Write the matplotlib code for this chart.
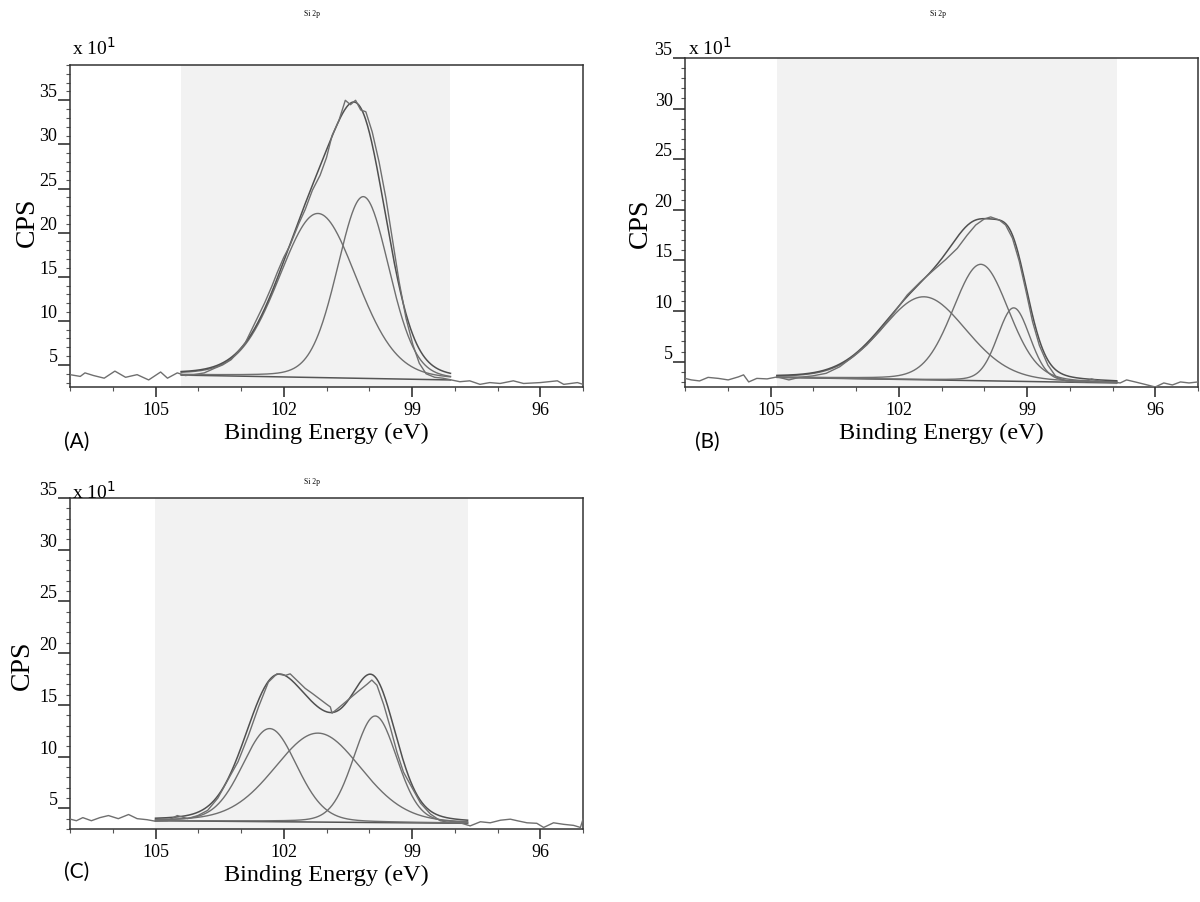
import numpy as np
import matplotlib
matplotlib.use("Agg")
import matplotlib.pyplot as plt
from matplotlib.ticker import MultipleLocator

plt.rcParams['font.family'] = ['Liberation Serif', 'DejaVu Serif']

# panel A raw spectrum (eV, CPS x10)
xa = [107.0, 106.76, 106.65, 106.45, 106.2, 105.95, 105.7, 105.43, 105.16, 104.88, 104.72, 104.49, 104.3,
      104.1, 103.86, 103.63, 103.43, 103.23, 103.05, 102.9, 102.75, 102.6, 102.45, 102.28, 102.15, 102.0,
      101.85, 101.65, 101.5, 101.33, 101.15, 101.0, 100.87, 100.71, 100.56, 100.44, 100.32, 100.2, 100.08,
      99.93, 99.77, 99.61, 99.46, 99.3, 99.14, 98.98, 98.83, 98.67, 98.47, 98.28, 98.08, 97.88, 97.65,
      97.41, 97.18, 96.94, 96.63, 96.39, 96.0, 95.6, 95.45, 95.13, 95.0]
ya = [3.9, 3.7, 4.1, 3.8, 3.5, 4.3, 3.6, 3.9, 3.3, 4.2, 3.5, 4.1, 3.8,
      3.9, 4.1, 4.6, 5.0, 5.6, 6.6, 7.5, 9.0, 10.5, 12.0, 13.9, 15.5, 17.2,
      18.6, 21.0, 22.6, 24.8, 26.5, 28.5, 31.0, 32.7, 35.0, 34.5, 35.0, 33.9, 33.7,
      31.4, 28.0, 23.9, 19.3, 14.4, 10.3, 7.3, 5.2, 4.0, 3.6, 3.5, 3.3, 3.1, 3.2,
      2.8, 3.0, 2.9, 3.2, 2.9, 3.0, 3.2, 2.8, 3.0, 2.8]

# panel B raw spectrum
xb = [107.0, 106.85, 106.66, 106.46, 106.22, 105.99, 105.75, 105.63, 105.51, 105.32, 105.08, 104.84,
      104.57, 104.33, 104.01, 103.7, 103.38, 103.07, 102.75, 102.43, 102.12, 101.8, 101.49, 101.17,
      100.9, 100.63, 100.4, 100.2, 100.0, 99.85, 99.65, 99.5, 99.34, 99.18, 99.02, 98.87, 98.71, 98.51,
      98.32, 98.08, 97.88, 97.65, 97.49, 97.26, 97.02, 96.82, 96.67, 96.47, 96.23, 96.0, 95.8, 95.6,
      95.41, 95.21, 95.0]
yb = [3.35, 3.2, 3.1, 3.45, 3.35, 3.2, 3.5, 3.7, 3.0, 3.35, 3.3, 3.5,
      3.2, 3.45, 3.6, 3.85, 4.5, 5.5, 6.65, 8.1, 9.8, 11.6, 12.9, 14.1,
      15.1, 16.2, 17.5, 18.5, 19.1, 19.3, 19.0, 18.5, 17.2, 14.9, 11.9, 8.95, 6.6, 4.66,
      3.5, 3.1, 3.0, 3.0, 3.3, 3.0, 3.0, 2.9, 3.2, 3.0, 2.75, 2.5, 2.9, 2.7,
      3.0, 2.9, 3.0]

# panel C raw spectrum
xc = [107.0, 106.85, 106.7, 106.5, 106.3, 106.1, 105.87, 105.63, 105.43, 105.2, 105.0, 104.72, 104.49,
      104.25, 104.01, 103.78, 103.54, 103.3, 103.07, 102.83, 102.59, 102.36, 102.16, 101.96, 101.85,
      101.65, 101.5, 101.33, 101.01, 100.91, 100.87, 100.75, 100.52, 100.29, 100.05, 99.94, 99.82,
      99.66, 99.5, 99.35, 99.2, 99.0, 98.8, 98.57, 98.34, 98.1, 97.87, 97.64, 97.4, 97.17, 96.93,
      96.7, 96.54, 96.31, 96.08, 95.92, 95.69, 95.45, 95.22, 95.06, 95.0]
yc = [3.96, 3.8, 4.1, 3.8, 4.1, 4.3, 4.0, 4.4, 4.0, 3.9, 3.75, 3.8, 4.3,
      4.0, 4.3, 4.8, 6.0, 7.8, 9.5, 12.0, 14.8, 17.2, 18.0, 17.85, 18.0,
      17.2, 16.6, 16.1, 15.1, 14.8, 14.2, 14.6, 15.4, 16.2, 17.0, 17.4, 16.9,
      15.0, 12.7, 10.4, 8.5, 7.0, 5.5, 4.45, 3.8, 3.6, 3.6, 3.3, 3.7, 3.6, 3.85,
      3.95, 3.8, 3.6, 3.55, 3.15, 3.6, 3.45, 3.35, 3.15, 3.95]

# fitted components: centre (eV), height above background, FWHM (eV)
centers_a = [101.2, 100.14]
heights_a = [18.6, 20.6]
fwhm_a = [2.15, 1.43]
centers_b = [101.41, 100.08, 99.31]
heights_b = [8.2, 11.5, 7.25]
fwhm_b = [2.35, 1.55, 0.9]
centers_c = [102.33, 101.2, 99.86]
heights_c = [9.0, 8.6, 10.3]
fwhm_c = [1.5, 2.4, 1.2]

# fit region (eV) and background at its two ends
region_a = [104.4, 98.1]
bg_a = [3.85, 3.3]
region_b = [104.85, 96.9]
bg_b = [3.45, 2.9]
region_c = [105.0, 97.7]
bg_c = [3.8, 3.55]

ylims = [(2.5, 39.0), (2.5, 35.0), (3.0, 35.0)]

line_col = '#6f6f6f'


def gl(x, c, h, w, m=0.15):
    g = np.exp(-4 * np.log(2) * (x - c) ** 2 / w ** 2)
    lor = 1.0 / (1 + 4 * (x - c) ** 2 / w ** 2)
    return h * ((1 - m) * g + m * lor)


def panel(ax, xr, yr, cen, hei, fw, region, bg, ylim):
    ax.axvspan(region[1], region[0], color='#f2f2f2', lw=0, zorder=0)
    ax.plot(xr, yr, color=line_col, lw=1.0, zorder=3)
    xs = np.linspace(region[0], region[1], 400)
    base = np.interp(xs, [region[1], region[0]], [bg[1], bg[0]])
    ax.plot(xs, base, color='#555555', lw=1.1, zorder=2)
    total = base.copy()
    for c, h, w in zip(cen, hei, fw):
        comp = gl(xs, c, h, w)
        total += comp
        ax.plot(xs, base + comp, color=line_col, lw=1.0, zorder=2)
    ax.plot(xs, total, color='#505050', lw=1.1, zorder=2)

    ax.set_xlim(107, 95)
    ax.set_ylim(*ylim)
    ax.xaxis.set_major_locator(MultipleLocator(3))
    ax.xaxis.set_minor_locator(MultipleLocator(1))
    ax.set_yticks([5, 10, 15, 20, 25, 30, 35])
    ax.yaxis.set_minor_locator(MultipleLocator(1))
    ax.tick_params(axis='both', which='major', direction='out', length=7, width=1.2,
                   labelsize=13, color='#333333', pad=3)
    ax.tick_params(axis='both', which='minor', direction='out', length=3, width=0.8, color='#555555')
    ax.tick_params(axis='y', which='major', length=9, pad=0)
    for lab in ax.get_yticklabels():
        lab.set_va('bottom')
    for s in ax.spines.values():
        s.set_color('#333333')
        s.set_linewidth(1.1)
    ax.set_xlabel('Binding Energy (eV)', fontsize=17.5, labelpad=3)


fig = plt.figure(figsize=(12, 9.03), dpi=100)
W, H = 1200, 903


def add_axes(l, r, t, b):
    return fig.add_axes([l / W, 1 - b / H, (r - l) / W, (b - t) / H])


ax_a = add_axes(70, 583, 66, 388)
ax_b = add_axes(685, 1198, 59, 388)
ax_c = add_axes(70, 583, 499, 830)

panel(ax_a, xa, ya, centers_a, heights_a, fwhm_a, region_a, bg_a, ylims[0])
panel(ax_b, xb, yb, centers_b, heights_b, fwhm_b, region_b, bg_b, ylims[1])
panel(ax_c, xc, yc, centers_c, heights_c, fwhm_c, region_c, bg_c, ylims[2])

# CPS labels
for (x, y) in [(27, 222), (640, 223), (22, 665)]:
    fig.text(x / W, 1 - y / H, 'CPS', fontsize=20, rotation=90, ha='center', va='center')

# multiplier labels
for (x, y) in [(72, 48), (688, 48), (72, 492)]:
    fig.text(x / W, 1 - y / H, r'x 10$^{1}$', fontsize=14, ha='left', va='center')

# small titles
for (x, y) in [(312, 14), (938, 14), (312, 482)]:
    fig.text(x / W, 1 - y / H, 'Si 2p', fontsize=5.5, ha='center', va='center')

# panel letters
for (x, y, s) in [(77, 442, '(A)'), (707, 442, '(B)'), (77, 872, '(C)')]:
    fig.text(x / W, 1 - y / H, s, fontsize=15, ha='center', va='center', family=['Lato', 'DejaVu Sans'])

fig.savefig('out.png', dpi=100)
